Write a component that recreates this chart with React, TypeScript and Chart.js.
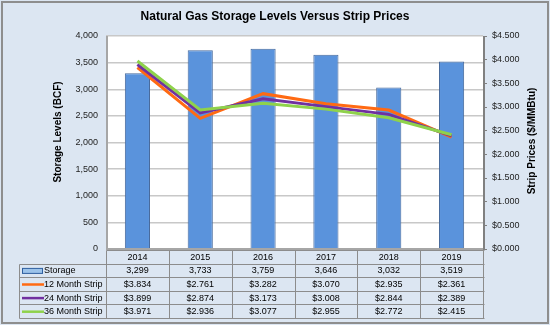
import React, { useEffect, useRef } from "react";
import { Chart, registerables } from "chart.js";

Chart.register(...registerables);

const title = "Natural Gas Storage Levels Versus Strip Prices";
const leftAxisTitle = "Storage Levels (BCF)";
const rightAxisTitle = "Strip Prices ($/MMBtu)";
const categories = ["2014", "2015", "2016", "2017", "2018", "2019"];
const seriesNames = ["Storage", "12 Month Strip", "24 Month Strip", "36 Month Strip"];
const storage = [3299, 3733, 3759, 3646, 3032, 3519];
const strip12 = [3.834, 2.761, 3.282, 3.07, 2.935, 2.361];
const strip24 = [3.899, 2.874, 3.173, 3.008, 2.844, 2.389];
const strip36 = [3.971, 2.936, 3.077, 2.955, 2.772, 2.415];
const seriesColors = ["#5a93dc", "#ff6a13", "#7030a0", "#8fd24b"];

const FONT = "'Liberation Sans', Arial, sans-serif";

const fmtStorage = (v: number) => v.toLocaleString("en-US");
const fmtPrice = (v: number) => "$" + v.toFixed(3);

const framePlugin = {
  id: "frame",
  beforeDraw(chart: any) {
    const { ctx, chartArea: a } = chart;
    ctx.save();
    ctx.fillStyle = "#dce6f2";
    ctx.fillRect(0, 0, chart.width, chart.height);
    ctx.strokeStyle = "#8e8e8e";
    ctx.lineWidth = 2;
    ctx.strokeRect(2, 2, chart.width - 4, chart.height - 4);
    ctx.fillStyle = "#ffffff";
    ctx.fillRect(a.left, a.top, a.right - a.left, a.bottom - a.top);
    ctx.restore();
  },
  afterDraw(chart: any) {
    const { ctx, chartArea: a } = chart;
    ctx.save();
    // title
    ctx.fillStyle = "#000";
    ctx.font = `bold 12px ${FONT}`;
    ctx.textAlign = "center";
    ctx.textBaseline = "middle";
    ctx.fillText(title, 275, 17);
    // axis titles
    ctx.font = `bold 10px ${FONT}`;
    ctx.save();
    ctx.translate(58, 132);
    ctx.rotate(-Math.PI / 2);
    ctx.fillText(leftAxisTitle, 0, 0);
    ctx.restore();
    ctx.save();
    ctx.translate(532, 141);
    ctx.rotate(-Math.PI / 2);
    ctx.fillText(rightAxisTitle, 0, 0);
    ctx.restore();

    // 3D-ish wall and floor
    ctx.strokeStyle = "#a6a6a6";
    ctx.lineWidth = 2;
    ctx.beginPath();
    ctx.moveTo(a.left + 1, a.top);
    ctx.lineTo(a.left + 1, a.bottom);
    ctx.lineTo(a.right, a.bottom);
    ctx.stroke();
    ctx.strokeStyle = "#808080";
    ctx.beginPath();
    ctx.moveTo(a.right + 1, a.top);
    ctx.lineTo(a.right + 1, a.bottom + 1);
    ctx.stroke();

    // data table
    const n = categories.length;
    const colW = (a.right - a.left) / n;
    const xs = Array.from({ length: n + 1 }, (_, i) => a.left + i * colW);
    const top = a.bottom + 1;
    const rowH = 13.6;
    const legendLeft = 19.5;
    ctx.strokeStyle = "#8c8c8c";
    ctx.lineWidth = 1;
    const px = (v: number) => Math.round(v) + 0.5;
    for (let r = 0; r <= 5; r++) {
      const y = px(top + r * rowH);
      ctx.beginPath();
      ctx.moveTo(r === 0 ? px(a.left) : legendLeft, y);
      ctx.lineTo(px(a.right + 1), y);
      ctx.stroke();
    }
    for (let i = 0; i <= n; i++) {
      ctx.beginPath();
      ctx.moveTo(px(xs[i]), px(top));
      ctx.lineTo(px(xs[i]), px(top + 5 * rowH));
      ctx.stroke();
    }
    ctx.beginPath();
    ctx.moveTo(legendLeft, px(top + rowH));
    ctx.lineTo(legendLeft, px(top + 5 * rowH));
    ctx.stroke();

    ctx.font = `9px ${FONT}`;
    ctx.fillStyle = "#000";
    ctx.textAlign = "center";
    ctx.textBaseline = "middle";
    const rows: string[][] = [
      categories,
      storage.map(fmtStorage),
      strip12.map(fmtPrice),
      strip24.map(fmtPrice),
      strip36.map(fmtPrice),
    ];
    rows.forEach((row, r) => {
      const cy = top + r * rowH + rowH / 2 + 0.5;
      row.forEach((t, i) => {
        ctx.fillText(t, (xs[i] + xs[i + 1]) / 2, cy);
      });
    });
    seriesNames.forEach((name, k) => {
      const cy = top + (k + 1) * rowH + rowH / 2 + 0.5;
      if (k === 0) {
        ctx.fillStyle = "#9cc3ea";
        ctx.fillRect(22, cy - 2.5, 21, 5);
        ctx.strokeStyle = "#2f5f9f";
        ctx.lineWidth = 1;
        ctx.strokeRect(22.5, cy - 2.5, 20, 5);
      } else {
        ctx.strokeStyle = seriesColors[k];
        ctx.lineWidth = 2.5;
        ctx.beginPath();
        ctx.moveTo(22, cy);
        ctx.lineTo(44, cy);
        ctx.stroke();
      }
      ctx.fillStyle = "#000";
      ctx.textAlign = "left";
      ctx.fillText(name, 44, cy);
    });
    ctx.restore();
  },
};

export default function App() {
  const ref = useRef<HTMLCanvasElement>(null);
  useEffect(() => {
    if (!ref.current) return;
    const tickFont = { family: FONT, size: 9 };
    const chart = new Chart(ref.current, {
      data: {
        labels: categories,
        datasets: [
          {
            type: "line",
            label: seriesNames[1],
            data: strip12,
            yAxisID: "y1",
            borderColor: seriesColors[1],
            borderWidth: 3,
            pointRadius: 0,
            order: 3,
          },
          {
            type: "line",
            label: seriesNames[2],
            data: strip24,
            yAxisID: "y1",
            borderColor: seriesColors[2],
            borderWidth: 3,
            pointRadius: 0,
            order: 2,
          },
          {
            type: "line",
            label: seriesNames[3],
            data: strip36,
            yAxisID: "y1",
            borderColor: seriesColors[3],
            borderWidth: 3,
            pointRadius: 0,
            order: 1,
          },
          {
            type: "bar",
            label: seriesNames[0],
            data: storage,
            yAxisID: "y",
            backgroundColor: seriesColors[0],
            borderColor: "#46699c",
            borderWidth: 1,
            barPercentage: 0.4,
            categoryPercentage: 1,
            order: 10,
          },
        ],
      } as any,
      options: {
        responsive: false,
        animation: false,
        devicePixelRatio: 1,
        layout: { padding: { top: 36, left: 0, right: 0, bottom: 0 } },
        plugins: { legend: { display: false }, title: { display: false }, tooltip: { enabled: false } },
        scales: {
          x: {
            type: "category",
            offset: true,
            grid: { display: false },
            border: { display: false },
            ticks: { display: false },
            afterFit: (s: any) => {
              s.height = 76;
            },
          },
          y: {
            position: "left",
            min: 0,
            max: 4000,
            ticks: {
              stepSize: 500,
              font: tickFont,
              color: "#222",
              padding: 8,
              callback: (v: any) => Number(v).toLocaleString("en-US"),
            },
            grid: { color: "#c8c8c8", lineWidth: 1.5, drawTicks: false },
            border: { display: false },
            afterFit: (s: any) => {
              s.width = 106;
            },
          },
          y1: {
            position: "right",
            min: 0,
            max: 4.5,
            ticks: {
              stepSize: 0.5,
              font: tickFont,
              color: "#222",
              padding: 5,
              callback: (v: any) => fmtPrice(Number(v)),
            },
            grid: { drawOnChartArea: false, drawTicks: true, tickLength: 4, color: "#808080" },
            border: { display: false },
            afterFit: (s: any) => {
              s.width = 67;
            },
          },
        },
      } as any,
      plugins: [framePlugin],
    });
    return () => chart.destroy();
  }, []);
  return (
    <div style={{ position: "fixed", left: 0, top: 0, width: 550, height: 325 }}>
      <canvas ref={ref} width={550} height={325} style={{ display: "block", width: 550, height: 325 }} />
    </div>
  );
}
